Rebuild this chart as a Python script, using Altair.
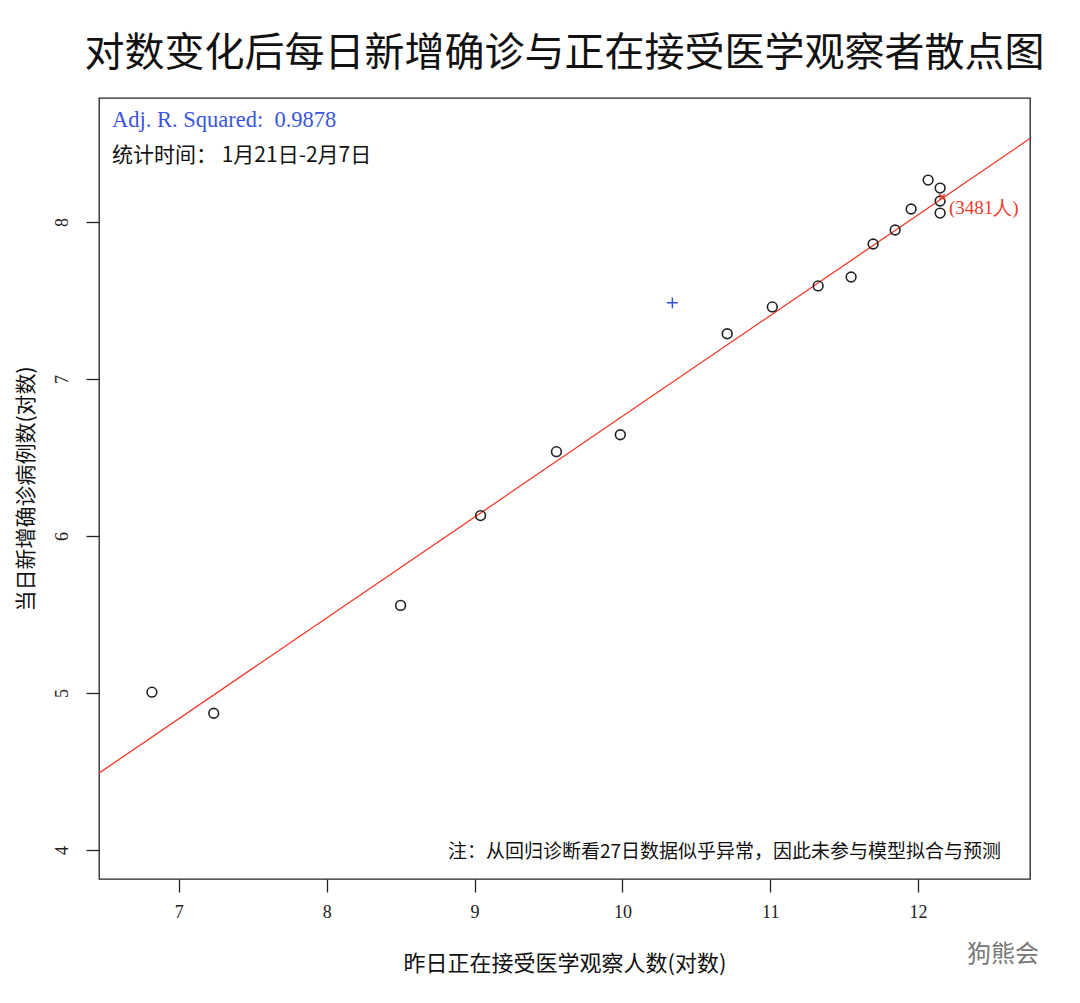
import altair as alt
import pandas as pd

x_obs = [6.818, 7.236, 8.500, 9.041, 9.554, 9.986, 10.709, 11.014, 11.324, 11.547,
         11.696, 11.845, 11.953, 12.068, 12.149, 12.149, 12.149]
y_obs = [5.005, 4.871, 5.558, 6.130, 6.537, 6.645, 7.288, 7.459, 7.593, 7.650,
         7.860, 7.949, 8.083, 8.267, 8.216, 8.134, 8.057]

# anomalous point (Jan 27) excluded from fit
x_out = [10.338]
y_out = [7.485]

# prediction point
x_pred = [12.162]
y_pred = [8.160]
pred_label = ["(3481人)"]

# fitted line coefficients
fit_intercept = 0.342
fit_slope = 0.642

x_domain = [6.46, 12.757]
y_domain = [3.815, 8.79]
x_ticks = [7, 8, 9, 10, 11, 12]
y_ticks = [4, 5, 6, 7, 8]

title = "对数变化后每日新增确诊与正在接受医学观察者散点图"
x_title = "昨日正在接受医学观察人数(对数)"
y_title = "当日新增确诊病例数(对数)"
r2_text = "Adj. R. Squared:\u00a0\u00a00.9878"
period_text = "统计时间：\u00a01月21日-2月7日"
note_text = "注：从回归诊断看27日数据似乎异常，因此未参与模型拟合与预测"
watermark = "狗熊会"

SERIF = "Liberation Serif"
CJK = "Noto Sans CJK SC"

W, H = 931, 781

obs = pd.DataFrame({"x": x_obs, "y": y_obs})
out = pd.DataFrame({"x": x_out, "y": y_out})
pred = pd.DataFrame({"x": x_pred, "y": y_pred, "label": pred_label})
line = pd.DataFrame({"x": x_domain,
                     "y": [fit_intercept + fit_slope * v for v in x_domain]})

xs = alt.Scale(domain=x_domain, nice=False, zero=False)
ys = alt.Scale(domain=y_domain, nice=False, zero=False)

xenc = alt.X("x:Q", scale=xs, title=x_title,
             axis=alt.Axis(values=x_ticks, format="d", grid=False, domain=False, tickSize=13,
                           tickColor="#222", tickWidth=1.3, labelPadding=11,
                           labelFont=SERIF, labelFontSize=18, labelColor="#222",
                           titleFont=CJK, titleFontSize=22, titleFontWeight="normal",
                           titleColor="#111", titlePadding=32))
yenc = alt.Y("y:Q", scale=ys, title=y_title,
             axis=alt.Axis(values=y_ticks, format="d", grid=False, domain=False, tickSize=13,
                           tickColor="#222", tickWidth=1.3, labelPadding=24,
                           labelAngle=270, labelAlign="center", labelBaseline="middle",
                           labelFont=SERIF, labelFontSize=18, labelColor="#222",
                           titleFont=CJK, titleFontSize=21, titleFontWeight="normal",
                           titleColor="#111", titlePadding=17))

fit = alt.Chart(line).mark_line(color="#f03a2a", strokeWidth=1.3, clip=True).encode(
    x=xenc, y=yenc)

pts = alt.Chart(obs).mark_point(shape="circle", size=95, filled=False, opacity=1,
                                 color="#222", strokeWidth=1.6).encode(x="x:Q", y="y:Q")

outlier = alt.Chart(out).mark_point(shape="M-1,0L1,0M0,-1L0,1", size=120, filled=False,
                                     opacity=1, color="#3350e0", strokeWidth=1.5).encode(
    x="x:Q", y="y:Q")

predx = alt.Chart(pred).mark_point(shape="M-1,-1L1,1M-1,1L1,-1", size=30, filled=False,
                                    opacity=1, color="#f03a2a", strokeWidth=1.5).encode(
    x="x:Q", y="y:Q")
predtxt = alt.Chart(pred).mark_text(align="left", baseline="middle", dx=7, dy=11,
                                     font=SERIF, fontSize=19, color="#f03a2a").encode(
    x="x:Q", y="y:Q", text="label:N")

ann = pd.DataFrame({"r2": [r2_text], "period": [period_text], "note": [note_text],
                    "wm": [watermark]})
base_ann = alt.Chart(ann)
r2 = base_ann.mark_text(align="left", baseline="middle", font=SERIF, fontSize=22.5,
                        color="#3b55e0").encode(x=alt.value(13), y=alt.value(22), text="r2:N")
period = base_ann.mark_text(align="left", baseline="middle", font=CJK, fontSize=21,
                            color="#111").encode(x=alt.value(13), y=alt.value(58), text="period:N")
note = base_ann.mark_text(align="right", baseline="middle", font=CJK, fontSize=19,
                          color="#111").encode(x=alt.value(902), y=alt.value(754), text="note:N")
wm = base_ann.mark_text(align="left", baseline="middle", font=CJK, fontSize=24,
                        color="#777").encode(x=alt.value(868), y=alt.value(857), text="wm:N")

chart = alt.layer(fit, pts, outlier, predx, predtxt, r2, period, note, wm).properties(
    width=W, height=H,
    title=alt.TitleParams(title, font=CJK, fontSize=40, fontWeight="normal",
                          color="#111", anchor="middle", offset=24),
    autosize=alt.AutoSizeParams(type="none"),
    padding={"left": 91, "top": 90, "right": 34, "bottom": 110},
).configure(background="white").configure_view(stroke="#222", strokeWidth=1.3)

chart.save("out.html", embed_options={"renderer": "svg", "actions": False})
